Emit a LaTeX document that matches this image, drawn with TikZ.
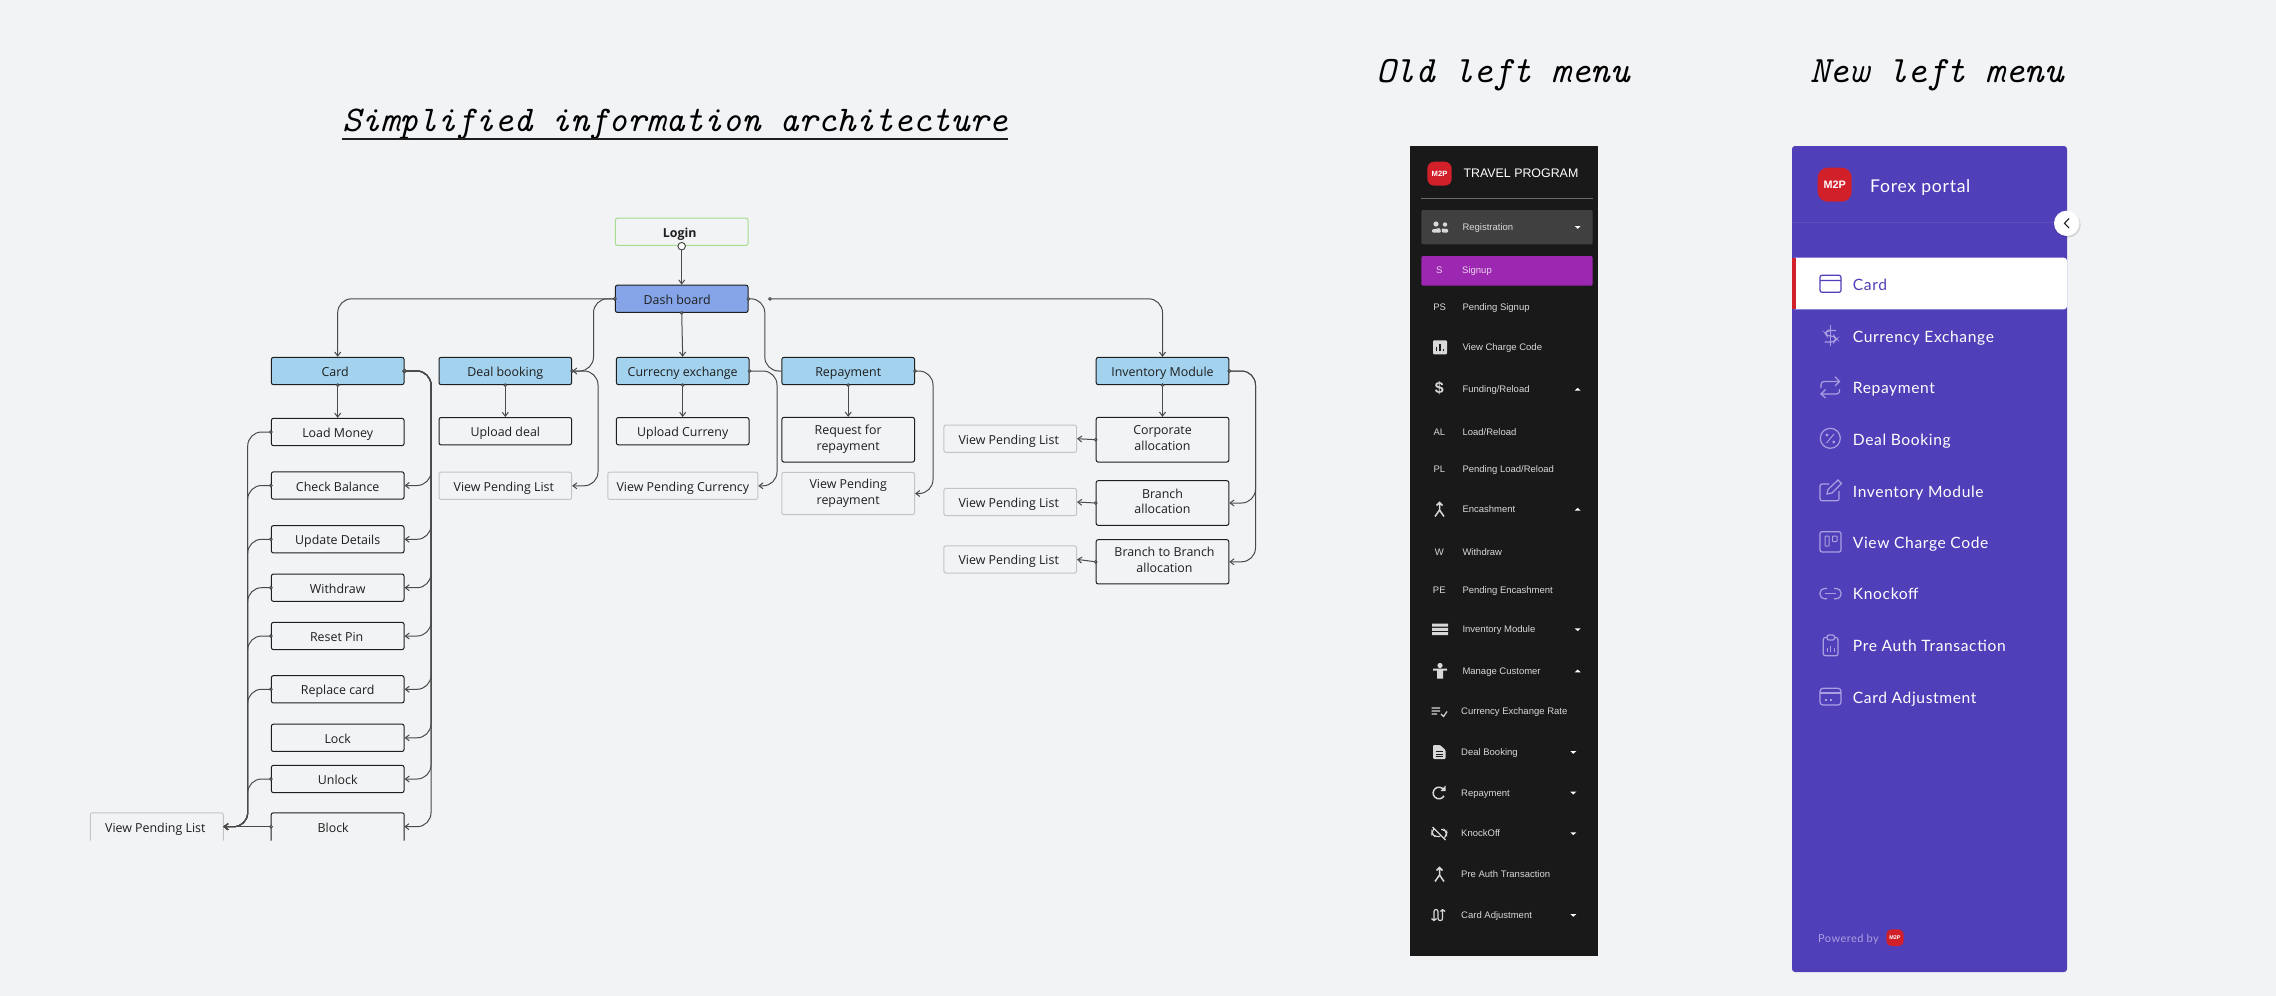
\documentclass[tikz,border=0pt]{standalone}
\usepackage{fontspec}
\setmainfont{Open Sans}
\newfontfamily\oldfont{Liberation Sans}
\newfontfamily\menufont{Lato}[LetterSpace=4]
\usetikzlibrary{arrows.meta}
\definecolor{paper}{HTML}{F2F3F5}
\definecolor{ink}{HTML}{1E1E1E}
\definecolor{wire}{HTML}{4A4A4A}
\definecolor{soft}{HTML}{C4C4C4}
\definecolor{sky}{HTML}{A3D2EE}
\definecolor{dashblue}{HTML}{85A5E8}
\definecolor{oldpanel}{HTML}{191919}
\definecolor{oldtext}{HTML}{D8D8D8}
\definecolor{purplebar}{HTML}{9C27B0}
\definecolor{newpanel}{HTML}{4F3FB8}
\definecolor{newline}{HTML}{A9A0E2}
\definecolor{mred}{HTML}{D2202A}
\definecolor{logingreen}{HTML}{A6DC90}
\tikzstyle{bag} = [draw=ink, line width=1pt, rounded corners=2pt, inner sep=0pt, minimum width=132.6pt, minimum height=27.3pt, align=center, text=ink, text height=11pt, text depth=0pt, font=\fontsize{12.4}{15.5}\selectfont]
\tikzstyle{two} = [text height=21pt, minimum height=44.7pt]
\tikzstyle{head} = [bag, fill=sky]
\tikzstyle{pend} = [bag, draw=soft]
\tikzstyle{opent} = [inner sep=0pt, minimum width=132.6pt, minimum height=27.3pt, text=ink, text height=11pt, text depth=0pt, font=\fontsize{12.4}{15.5}\selectfont]
\tikzstyle{link} = [draw=wire, line width=1pt, rounded corners=14pt, -{Straight Barb[length=4pt,width=6pt]}]
\tikzstyle{from} = [link, {Circle[open,fill=white,length=3.6pt,width=3.6pt]}-{Straight Barb[length=4pt,width=6pt]}, shorten <=-1.8pt]
\tikzstyle{plain} = [draw=wire, line width=1pt, rounded corners=14pt, {Circle[open,fill=white,length=3.6pt,width=3.6pt]}-, shorten <=-1.8pt]
\tikzstyle{heading} = [inner sep=0pt, text=black, font=\fontsize{37.2}{40}\selectfont\ttfamily\itshape]
\tikzstyle{oldrow} = [anchor=west, inner sep=0pt, text=oldtext, text height=8.5pt, text depth=1.5pt, font=\fontsize{9.5}{12}\selectfont\oldfont]
\tikzstyle{oldtag} = [oldrow, anchor=center]
\tikzstyle{newrow} = [anchor=west, inner sep=0pt, text=white, text height=12.5pt, text depth=1.5pt, font=\fontsize{15.6}{18}\selectfont\menufont]
\tikzstyle{logo} = [fill=mred, text=white, inner sep=0pt, font=\oldfont\bfseries]
\tikzstyle{oldicon} = [fill=oldtext, draw=none]
\tikzstyle{oldstroke} = [draw=oldtext, line width=1.5pt]
\tikzstyle{newicon} = [draw=newline, line width=1.2pt, rounded corners=2pt]
\begin{document}
\begin{tikzpicture}[x=1pt, y=-1pt]
	\useasboundingbox (0,0) rectangle (2276,996);
	\fill [paper] (0,0) rectangle (2276,996);

	\node (title) at (675,124.5) [heading, font=\fontsize{36.2}{40}\selectfont\ttfamily\itshape] {Simplified information architecture};
	\draw [line width=2pt, draw=ink] ([yshift=1.5pt]title.south west) -- ([yshift=1.5pt]title.south east);
	\node (oldhead) at (1503,75) [heading] {Old left menu};
	\node (newhead) at (1937,75) [heading] {New left menu};

	\node (login) at (681.7,231.8) [bag, draw=logingreen, font=\fontsize{12.4}{15.5}\selectfont\bfseries] {\hspace*{-4pt}Login};
	\node (dash) at (681.7,298.8) [bag, fill=dashblue] {\hspace*{-9pt}Dash board};
	\node (card) at (337.7,371) [head] {\hspace*{-5pt}Card};
	\node (deal) at (505.3,371) [head] {Deal booking};
	\node (curr) at (682.7,371) [head] {Currecny exchange};
	\node (rep) at (848.2,371) [head] {Repayment};
	\node (inv) at (1162.5,371) [head] {Inventory Module};

	\node (load) at (337.7,432) [bag] {Load Money};
	\node (check) at (337.7,485.5) [bag] {Check Balance};
	\node (update) at (337.7,539.3) [bag] {Update Details};
	\node (draw) at (337.7,587.7) [bag] {Withdraw};
	\node (reset) at (337.7,636) [bag] {\hspace*{-2pt}Reset Pin};
	\node (replace) at (337.7,689.3) [bag] {Replace card};
	\node (lock) at (337.7,737.8) [bag] {Lock};
	\node (unlock) at (337.7,779) [bag] {Unlock};
	\node (block) at (337.7,826.7) [opent] {\hspace*{-9pt}Block};
	\node (cardlist) at (156.8,826.7) [opent] {\hspace*{-3pt}View Pending List};
	\draw [line width=1pt, draw=ink, rounded corners=2pt] (block.south west) -- (block.north west) -- (block.north east) -- (block.south east);
	\draw [line width=1pt, draw=soft, rounded corners=2pt] (cardlist.south west) -- (cardlist.north west) -- (cardlist.north east) -- (cardlist.south east);

	\node (upload) at (505.3,431.2) [bag] {Upload deal};
	\node (dealist) at (505.3,485.8) [pend] {\hspace*{-3pt}View Pending List};
	\node (upcurr) at (682.7,431.2) [bag] {Upload Curreny};
	\node (currlist) at (682.8,485.8) [pend, minimum width=150pt] {View Pending Currency};
	\node (request) at (848.2,439.7) [bag, two] {Request for\\repayment};
	\node (replist) at (848.2,493.5) [pend, two, minimum height=42.4pt] {View Pending\\repayment};
	\node (corp) at (1162.5,439.7) [bag, two] {Corporate\\allocation};
	\node (branch) at (1162.5,503) [bag, two] {Branch\\allocation};
	\node (btob) at (1162.5,561.8) [bag, two, minimum height=44.3pt] {\hspace*{4pt}Branch to Branch\\\hspace*{4pt}allocation};
	\node (corplist) at (1010.2,438.7) [pend] {\hspace*{-3pt}View Pending List};
	\node (brlist) at (1010.2,502) [pend] {\hspace*{-3pt}View Pending List};
	\node (btlist) at (1010.2,559.4) [pend] {\hspace*{-3pt}View Pending List};

	\coordinate (start) at (770,298.8);
	\coordinate (cardbus) at (431,371);
	\coordinate (backbus) at (247.7,826.7);
	\coordinate (dealin) at (593.5,371);
	\coordinate (dealbus) at (598,371);
	\coordinate (repin) at (764.8,371);
	\coordinate (currbus) at (777,371);
	\coordinate (repbus) at (933,371);
	\coordinate (invbus) at (1255.5,371);

	\draw [from, {Circle[open,fill=white,length=8.5pt,width=8.5pt]}-{Straight Barb[length=4pt,width=6pt]}, shorten <=-4pt] (login.south) -- (dash.north);
	\draw [from] (dash.west) -| (card.north);
	\draw [from] (dash.west) -| (dealin) -- (deal.east);
	\draw [from] (dash.south) -- (curr.north);
	\draw [plain] (dash.east) -| (repin) -- (rep.west);
	\draw [from] (start) -| (inv.north);

	\draw [from] (card.south) -- (load.north);
	\draw [from] (deal.south) -- (upload.north);
	\draw [from] (curr.south) -- (upcurr.north);
	\draw [from] (rep.south) -- (request.north);
	\draw [from] (inv.south) -- (corp.north);

	\draw [from] (deal.east) -| (dealbus |- dealist.east) -- (dealist.east);
	\draw [from] (curr.east) -| (currbus |- currlist.east) -- (currlist.east);
	\draw [from] (rep.east) -| (repbus |- replist.east) -- (replist.east);
	\draw [from] (inv.east) -| (invbus |- branch.east) -- (branch.east);
	\draw [from] (inv.east) -| (invbus |- btob.east) -- (btob.east);

	\draw [from] (card.east) -| (cardbus |- check.east) -- (check.east);
	\draw [from] (card.east) -| (cardbus |- update.east) -- (update.east);
	\draw [from] (card.east) -| (cardbus |- draw.east) -- (draw.east);
	\draw [from] (card.east) -| (cardbus |- reset.east) -- (reset.east);
	\draw [from] (card.east) -| (cardbus |- replace.east) -- (replace.east);
	\draw [from] (card.east) -| (cardbus |- lock.east) -- (lock.east);
	\draw [from] (card.east) -| (cardbus |- unlock.east) -- (unlock.east);
	\draw [from] (card.east) -| (cardbus |- block.east) -- (block.east);

	\draw [from] (load.west) -| (backbus) -- (cardlist.east);
	\draw [from] (check.west) -| (backbus) -- (cardlist.east);
	\draw [from] (update.west) -| (backbus) -- (cardlist.east);
	\draw [from] (draw.west) -| (backbus) -- (cardlist.east);
	\draw [from] (reset.west) -| (backbus) -- (cardlist.east);
	\draw [from] (replace.west) -| (backbus) -- (cardlist.east);
	\draw [from] (unlock.west) -| (backbus) -- (cardlist.east);
	\draw [from] (block.west) -- (cardlist.east);

	\draw [from] (corp.west) -- (corplist.east);
	\draw [from] (branch.west) -- (brlist.east);
	\draw [from] (btob.west) -- (btlist.east);

	\fill [oldpanel] (1410,146) rectangle (1598.3,956);
	\node (oldlogo) at (1439.5,173.7) [logo, rounded corners=7pt, minimum width=24.4pt, minimum height=24pt, font=\fontsize{7.6}{9}\selectfont\oldfont\bfseries] {M2P};
	\node (oldname) at (1463.3,173) [oldrow, text=white, text height=9.5pt, font=\fontsize{12.4}{16}\selectfont\oldfont] {TRAVEL PROGRAM};
	\draw [draw=white!35!oldpanel, line width=1pt] (1421.3,198.3) -- (1592.7,198.3);
	\fill [white!17!oldpanel, rounded corners=2pt] (1421.3,210) rectangle (1592.7,244.3);
	\fill [purplebar, rounded corners=2pt] (1421.3,256) rectangle (1592.7,285.7);

	\node (oreg) at (1462.3,227) [oldrow] {Registration};
	\node (osigntag) at (1439.3,270.3) [oldtag, text=white!80!purplebar] {S};
	\node (osign) at (1462,270.3) [oldrow, text=white!80!purplebar] {Signup};
	\node (opendtag) at (1439.6,307) [oldtag] {PS};
	\node (opend) at (1462.3,307) [oldrow] {Pending Signup};
	\node (ocharge) at (1462.3,347.3) [oldrow] {View Charge Code};
	\node (ofund) at (1462.3,389.3) [oldrow] {Funding/Reload};
	\node (oloadtag) at (1439.3,432) [oldtag] {AL};
	\node (oload) at (1462.3,432) [oldrow] {Load/Reload};
	\node (opltag) at (1439.3,469) [oldtag] {PL};
	\node (opl) at (1462.3,469) [oldrow] {Pending Load/Reload};
	\node (oenc) at (1462.3,509.3) [oldrow] {Encashment};
	\node (odrawtag) at (1439.3,552) [oldtag] {W};
	\node (odraw) at (1462.3,552) [oldrow] {Withdraw};
	\node (opetag) at (1439.3,589.7) [oldtag] {PE};
	\node (ope) at (1462.3,589.7) [oldrow] {Pending Encashment};
	\node (oinv) at (1462.3,629.3) [oldrow] {Inventory Module};
	\node (ocust) at (1462.3,671) [oldrow] {Manage Customer};
	\node (orate) at (1461,711) [oldrow] {Currency Exchange Rate};
	\node (odeal) at (1461,752) [oldrow] {Deal Booking};
	\node (orep) at (1461,792.7) [oldrow] {Repayment};
	\node (oknock) at (1461,833.3) [oldrow] {KnockOff};
	\node (oauth) at (1461,874) [oldrow] {Pre Auth Transaction};
	\node (oadj) at (1461,915) [oldrow] {Card Adjustment};
	\node (ofundsign) at (1439.3,389.3) [oldtag, text=oldtext, text height=11pt, text depth=2pt, font=\fontsize{16}{18}\selectfont\oldfont\bfseries] {\$};

	\fill [white] (1574.7,226) -- (1580.7,226) -- (1577.7,228.8) -- cycle;
	\fill [white] (1574.7,390.7) -- (1580.7,390.7) -- (1577.7,387.8) -- cycle;
	\fill [white] (1574.7,510.7) -- (1580.7,510.7) -- (1577.7,507.8) -- cycle;
	\fill [white] (1574.7,628.3) -- (1580.7,628.3) -- (1577.7,631.1) -- cycle;
	\fill [white] (1574.7,672.4) -- (1580.7,672.4) -- (1577.7,669.5) -- cycle;
	\fill [white] (1570.3,751) -- (1576.3,751) -- (1573.3,753.8) -- cycle;
	\fill [white] (1570.3,791.7) -- (1576.3,791.7) -- (1573.3,794.5) -- cycle;
	\fill [white] (1570.3,832.3) -- (1576.3,832.3) -- (1573.3,835.1) -- cycle;
	\fill [white] (1570.3,914) -- (1576.3,914) -- (1573.3,916.8) -- cycle;

	\fill [oldicon] (1436,224) circle (2.6pt) (1445,224.5) circle (2.2pt);
	\fill [oldicon, rounded corners=1pt] (1432,232.5) -- (1432,229.5) -- (1440,228) -- (1441,232.5) -- cycle;
	\fill [oldicon, rounded corners=1pt] (1442,232.5) -- (1441.5,228.5) -- (1448,229) -- (1448,232.5) -- cycle;
	\fill [oldicon, rounded corners=1pt] (1433,340.3) rectangle (1447,354.3);
	\draw [draw=oldpanel, line width=1.2pt] (1436.5,351) -- (1436.5,347) (1440,351) -- (1440,343.5) (1443.5,351) -- (1443.5,348.5);
	\draw [oldstroke] (1439.5,503) -- (1439.5,510) -- (1435,516.5) (1439.5,510) -- (1444,516.5) (1436.5,505.5) -- (1439.5,502.5) -- (1442.5,505.5);
	\fill [oldicon] (1432,623.5) rectangle (1448,626.5) (1432,627.8) rectangle (1448,630.8) (1432,632) rectangle (1448,635);
	\fill [oldicon] (1440,665.5) circle (2.6pt) (1433,668.5) rectangle (1447,670.5) (1437,670) rectangle (1443,678.5);
	\draw [oldstroke, line width=1.2pt] (1431.5,708) -- (1440,708) (1431.5,711) -- (1440,711) (1431.5,714) -- (1437,714) (1441,714) -- (1443.5,716.5) -- (1447,711.5);
	\fill [oldicon, rounded corners=1pt] (1433,745) -- (1440,745) -- (1445.5,750) -- (1445.5,759) -- (1433,759) -- cycle;
	\draw [draw=oldpanel, line width=1pt] (1436,751.5) -- (1442.5,751.5) (1436,754) -- (1442.5,754) (1436,756.5) -- (1442.5,756.5);
	\draw [oldstroke] (1443.4,789.3) arc (40:330:5.8pt);
	\fill [oldicon] (1445.5,785.5) -- (1445.5,791) -- (1440.5,791) -- cycle;
	\draw [oldstroke, line width=1.2pt, rounded corners=2pt] (1434,829) -- (1432,831) -- (1432,834) -- (1435,836.5) -- (1440,836.5) (1441,829.5) -- (1444,829.5) -- (1446.5,832) -- (1446.5,835) -- (1444.5,837.5) (1432.5,827) -- (1445.5,840);
	\draw [oldstroke] (1439.5,867.5) -- (1439.5,875) -- (1435,881.5) (1439.5,875) -- (1444,881.5) (1436.5,870.5) -- (1439.5,867.5) -- (1442.5,870.5);
	\draw [oldstroke, line width=1.2pt, rounded corners=2pt] (1434,921) -- (1434,909.5) -- (1438,909.5) -- (1438,920.5) -- (1442.5,920.5) -- (1442.5,909) (1431.5,918.5) -- (1434,921) -- (1436.5,918.5) (1440.5,911.5) -- (1442.5,909) -- (1445,911.5);

	\fill [newpanel, rounded corners=3pt] (1792,146) rectangle (2067,972);
	\node (newlogo) at (1834.7,184.7) [logo, rounded corners=10pt, minimum width=34pt, minimum height=34pt, font=\fontsize{10.8}{12}\selectfont\oldfont\bfseries] {M2P};
	\node (newname) at (1870,186.7) [newrow, font=\fontsize{17.6}{20}\selectfont\menufont] {Forex portal};
	\draw [draw=white!8!newpanel, line width=1pt] (1792,222.7) -- (2067,222.7);
	\fill [white, rounded corners=3pt] (1792,257.7) rectangle (2067,309.3);
	\fill [mred] (1792,257.7) rectangle (1795.7,309.3);
	\fill [black, opacity=.12] (2067.7,224.7) circle (13pt);
	\node (collapse) at (2066.7,223.3) [circle, fill=white, minimum size=25.4pt, inner sep=0pt] {};
	\draw [draw=ink, line width=1.1pt] (2069,218.5) -- (2064.5,223.3) -- (2069,228);

	\node (ncard) at (1852.7,285) [newrow, text=newpanel] {Card};
	\node (ncurr) at (1852.7,336.7) [newrow] {Currency Exchange};
	\node (nrep) at (1852.7,388.3) [newrow] {Repayment};
	\node (ndeal) at (1852.7,440) [newrow] {Deal Booking};
	\node (ninv) at (1852.7,491.7) [newrow] {Inventory Module};
	\node (ncharge) at (1852.7,543.3) [newrow] {View Charge Code};
	\node (nknock) at (1852.7,594.3) [newrow] {Knockoff};
	\node (nauth) at (1852.7,646) [newrow] {Pre Auth Transaction};
	\node (nadj) at (1852.7,697.7) [newrow] {Card Adjustment};
	\node (powered) at (1818,939) [newrow, text=newline, text height=8.5pt, text depth=1.5pt, font=\fontsize{11}{12}\selectfont\menufont] {Powered by};
	\node (smalllogo) at (1895,937.7) [logo, rounded corners=5pt, minimum width=17.4pt, minimum height=16.7pt, font=\fontsize{5.4}{6}\selectfont\oldfont\bfseries] {M2P};

	\draw [newicon, draw=newpanel] (1820,275.3) rectangle (1841,292.3) (1820,280.5) -- (1841,280.5);
	\draw [newicon, rounded corners=3pt] (1836,330.5) -- (1828,330.5) -- (1825,333) -- (1827,336) -- (1834,336) -- (1836.5,339) -- (1834,342) -- (1824.5,342);
	\draw [newicon, rounded corners=0pt] (1830.3,325) -- (1830.3,345.7);
	\draw [newicon, rounded corners=3pt] (1821,388) -- (1821,381.5) -- (1839,381.5) (1839.5,389) -- (1839.5,394) -- (1821.5,394);
	\draw [newicon, rounded corners=0pt] (1835,376.7) -- (1839.5,381.5) -- (1835,386) (1825.5,389.5) -- (1821,394) -- (1825.5,398);
	\draw [newicon] (1830.3,438.3) circle (10pt);
	\draw [newicon, line width=1pt] (1826.5,443) -- (1834,434) (1827,435) circle (1pt) (1833.7,442) circle (1pt);
	\draw [newicon] (1829,484) -- (1820,484) -- (1820,500.7) -- (1839,500.7) -- (1839,491);
	\draw [newicon, rounded corners=0pt] (1827,494) -- (1828,489.5) -- (1838,480) -- (1841.5,483.5) -- (1832,493) -- cycle;
	\draw [newicon] (1820,531.7) rectangle (1841,552);
	\draw [newicon, line width=1pt, rounded corners=.5pt] (1825,536) rectangle (1829,546) (1832.5,536) rectangle (1837,541.5);
	\draw [newicon, rounded corners=4.5pt] (1827,588.5) -- (1820,588.5) -- (1820,598.8) -- (1827,598.8) (1834,588.5) -- (1841,588.5) -- (1841,598.8) -- (1834,598.8);
	\draw [newicon, rounded corners=0pt] (1825,593.7) -- (1836,593.7);
	\draw [newicon] (1823.3,637.5) rectangle (1838,655.7);
	\draw [newicon, fill=newpanel] (1827,635) rectangle (1834.5,640);
	\draw [newicon, rounded corners=0pt, line width=1pt] (1827,651.5) -- (1827,648) (1830.7,651.5) -- (1830.7,645.5) (1834.5,651.5) -- (1834.5,648);
	\draw [newicon, rounded corners=3pt] (1820,688.3) rectangle (1841,705);
	\draw [newicon, rounded corners=0pt] (1820,693) -- (1841,693) (1824.5,700) -- (1826.5,700) (1829.5,700) -- (1832,700);
\end{tikzpicture}
\end{document}
